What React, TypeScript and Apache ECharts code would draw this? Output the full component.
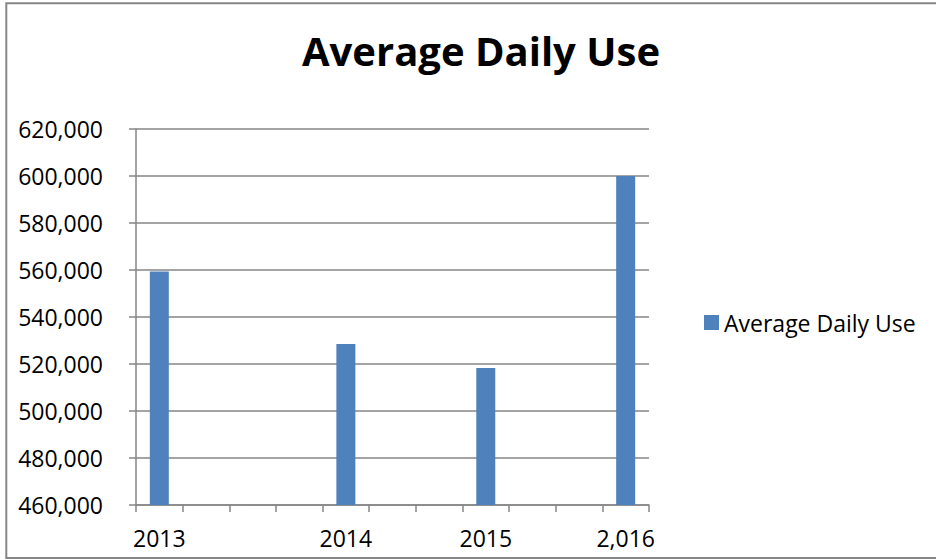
import React, { useEffect, useRef } from "react";
import * as echarts from "echarts";

const categories = ["2013", "", "", "", "2014", "", "", "2015", "", "", "2,016"];
const averageDailyUse = [559400, null, null, null, 528500, null, null, 518300, null, null, 600000];
const yTicks = { min: 460000, max: 620000, step: 20000 };
const seriesName = "Average Daily Use";
const titleText = "Average Daily Use";

const FONT = "'Open Sans', 'DejaVu Sans', sans-serif";

export default function App() {
  const ref = useRef<HTMLDivElement>(null);
  useEffect(() => {
    document.body.style.margin = "0";
    if (!ref.current) return;
    const chart = echarts.init(ref.current, undefined, { renderer: "svg" });
    chart.setOption({
      animation: false,
      backgroundColor: "#ffffff",
      title: {
        text: titleText,
        left: 476,
        textAlign: "center",
        top: 25,
        textStyle: { fontFamily: FONT, fontWeight: "bold", fontSize: 40, color: "#000" },
      },
      graphic: [
        {
          type: "rect",
          shape: { x: 6.3, y: 3.3, width: 940, height: 554.7 },
          style: { fill: "none", stroke: "#868686", lineWidth: 2 },
          silent: true,
        },
      ],
      legend: {
        data: [seriesName],
        left: 704,
        top: 311,
        padding: 0,
        itemWidth: 15,
        itemHeight: 15,
        itemGap: 0,
        icon: "rect",
        textStyle: { fontFamily: FONT, fontSize: 23, color: "#000", padding: [0, 0, 0, 0] },
      },
      grid: { left: 136, right: 287, top: 129, bottom: 55, containLabel: false },
      xAxis: {
        type: "category",
        data: categories,
        boundaryGap: true,
        axisLine: { show: true, lineStyle: { color: "#868686", width: 1.5 } },
        axisTick: { show: true, interval: 0, length: 7, lineStyle: { color: "#868686", width: 1.5 } },
        axisLabel: {
          interval: 0,
          margin: 21,
          fontFamily: FONT,
          fontSize: 23,
          color: "#000",
        },
        splitLine: { show: false },
      },
      yAxis: {
        type: "value",
        min: yTicks.min,
        max: yTicks.max,
        interval: yTicks.step,
        axisLine: { show: true, lineStyle: { color: "#868686", width: 1.5 } },
        axisTick: { show: true, length: 7, lineStyle: { color: "#868686", width: 1.5 } },
        axisLabel: {
          margin: 33,
          fontFamily: FONT,
          fontSize: 23,
          color: "#000",
          formatter: (v: number) => v.toLocaleString("en-US"),
        },
        splitLine: { show: true, lineStyle: { color: "#868686", width: 1.5 } },
      },
      series: [
        {
          name: seriesName,
          type: "bar",
          data: averageDailyUse,
          barWidth: 19,
          itemStyle: { color: "#4F81BD" },
        },
      ],
    });
    return () => chart.dispose();
  }, []);
  return <div ref={ref} style={{ width: 936, height: 560 }} />;
}
